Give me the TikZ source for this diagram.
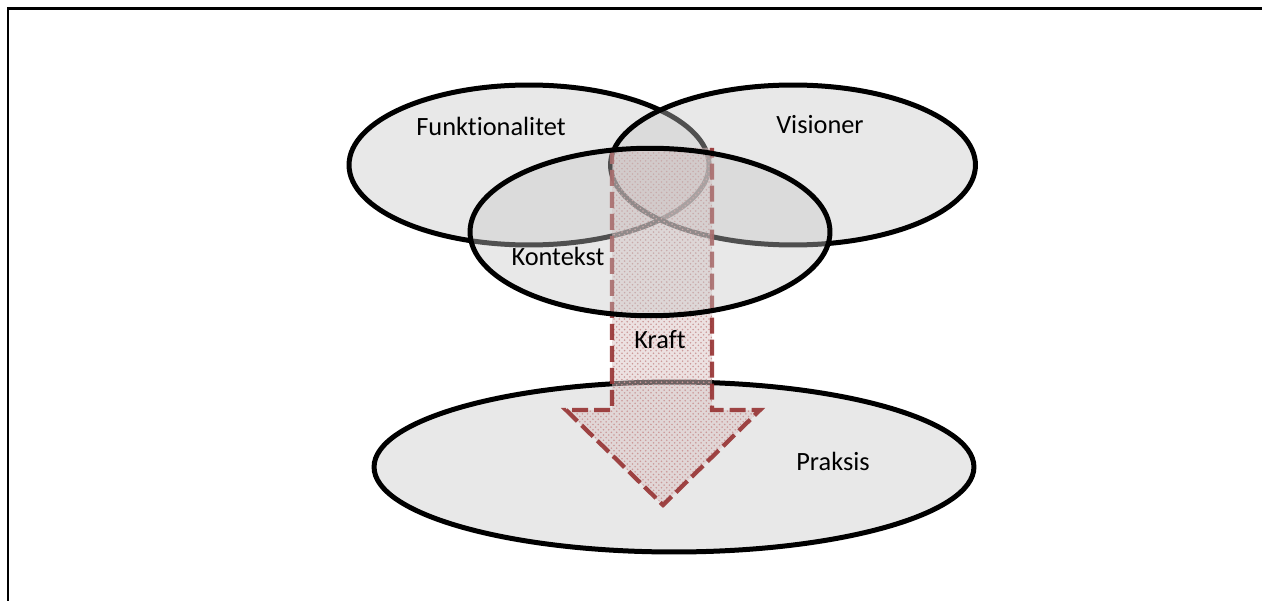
\documentclass[tikz,border=0pt]{standalone}
\usepackage{fontspec}
\setmainfont{Carlito}[Ligatures=NoCommon]
\usetikzlibrary{shapes.geometric,patterns}
\definecolor{kraftred}{RGB}{150,50,50}
\definecolor{kraftpink}{RGB}{218,196,196}
\definecolor{bubblegray}{RGB}{198,198,198}

\begin{document}
\begin{tikzpicture}[
  x=0.02cm, y=-0.02cm,
  bubble/.style={draw, ellipse, line width=0.1cm, fill=bubblegray,
                 fill opacity=0.4, inner sep=0pt},
  lbl/.style={font=\fontsize{15}{18}\selectfont},
  kraftline/.style={draw=kraftred, line width=0.085cm, draw opacity=0.9,
                    dash pattern=on 0.32cm off 0.12cm},
  kraftfill/.style={preaction={fill=kraftpink, fill opacity=0.5},
                    pattern=crosshatch dots, pattern color=kraftred!50},
]
\useasboundingbox (0,0) rectangle (1262,601);

% Frame
\draw[line width=0.06cm] (8,601) -- (8,9) -- (1262,9);

% Practice (bottom)
\node[bubble, minimum width=12cm, minimum height=3.4cm] (prak) at (674,467) {};

% Top circles
\node[bubble, minimum width=7.2cm, minimum height=3.2cm] (funk) at (529,165) {};
\node[bubble, minimum width=7.3cm, minimum height=3.2cm] (vis) at (793,165) {};

% Force arrow
\coordinate (tl) at (612,148);
\coordinate (tr) at (712,148);
\coordinate (tip) at (663,505);
\fill[kraftfill] (tl) -- (612,410) -- (566,410) -- (tip) -- (760,410) -- (712,410) -- (tr) -- cycle;
\draw[kraftline] (tl) -- (612,410) -- (566,410) -- (tip) -- (760,410) -- (712,410) -- (tr);

% Context over the rest
\node[bubble, minimum width=7.2cm, minimum height=3.35cm] (kon) at (650,232) {};

% Labels
\node[lbl] (lfunk) at (491,126) {Funktionalitet};
\node[lbl] (lvis) at (820,125) {Visioner};
\node[lbl] (lkon) at (558,256) {Kontekst};
\node[lbl] (lkraft) at (660,340) {Kraft};
\node[lbl] (lprak) at (833,461) {Praksis};

\end{tikzpicture}
\end{document}
